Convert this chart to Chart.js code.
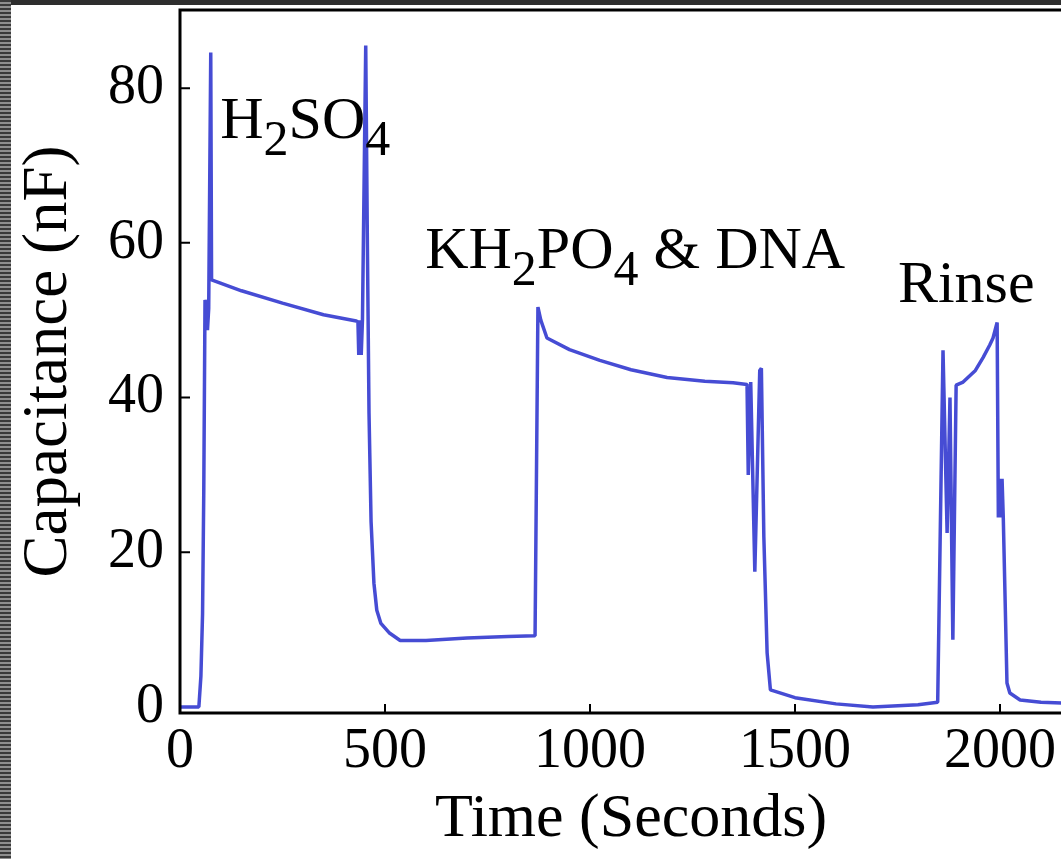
<!DOCTYPE html>
<html>
<head>
<meta charset="utf-8">
<title>Capacitance vs Time</title>
<script src="https://cdn.jsdelivr.net/npm/chart.js@4.4.1/dist/chart.umd.min.js"></script>
<style>
  html, body { margin: 0; padding: 0; overflow: hidden; background: #fff; }
  #wrap { position: relative; width: 1061px; height: 859px; overflow: hidden; background: #fff; }
  #chart { position: absolute; left: 0; top: 0; }
  .top-band { position: absolute; left: 0; top: 0; width: 100%; height: 5px; background: #2e2e2e; }
  .left-strip { position: absolute; left: 0; top: 0; width: 11px; height: 100%;
    background: repeating-linear-gradient(to bottom, #3a3a3a 0px, #3a3a3a 2px, #8e8e8e 2px, #8e8e8e 4px); }
</style>
</head>
<body>
<div id="wrap">
  <canvas id="chart" width="1100" height="859"></canvas>
  <div class="top-band"></div>
  <div class="left-strip"></div>
</div>
<script>
  // trace: time in seconds, capacitance in nF
  const timeSec = [
    0, 46, 51, 55, 58, 61, 64, 67, 70, 75, 77, 150, 250, 350, 430,
    434, 436, 439, 442, 445, 453, 457, 461, 466, 473, 480, 490, 510, 537,
    600, 700, 800, 866, 873, 880, 895, 950, 1024, 1100, 1188, 1280, 1349, 1383,
    1386, 1392, 1402, 1414, 1418, 1424, 1432, 1440, 1500, 1600, 1690, 1800, 1848,
    1861, 1871, 1878, 1885, 1893, 1910, 1940, 1959, 1975, 1983, 1993,
    1996, 1999, 2002, 2005, 2008, 2017, 2024, 2049, 2100, 2200
  ];
  const capacitanceNF = [
    0, 0, 4, 12, 28, 52.6, 52.2, 48.7, 51.5, 84.6, 55.2, 53.8, 52.2, 50.7, 49.9,
    49.8, 45.5, 50, 45.5, 50, 85.5, 60, 38, 24, 16, 12.5, 10.8, 9.6, 8.6,
    8.6, 8.9, 9.1, 9.2, 51.7, 50, 47.7, 46.2, 44.8, 43.6, 42.6, 42.1, 41.9, 41.7,
    30, 42, 17.5, 43.5, 43.8, 22, 7, 2.2, 1.2, 0.4, 0, 0.3, 0.6,
    46.1, 22.5, 40, 8.7, 41.6, 42, 43.5, 45.2, 46.8, 47.7, 49.7,
    24.5, 29.5, 24.5, 29.5, 24.5, 3.1, 1.8, 0.9, 0.6, 0.4
  ];
  const xTicks = [0, 500, 1000, 1500, 2000];
  const yTicks = [0, 20, 40, 60, 80];

  // text labels placed at data coordinates; parts marked 'sub' are subscripts
  const notes = [
    { t: 98, v: 73.6, parts: [['H'], ['2', 'sub'], ['SO'], ['4', 'sub']] },
    { t: 598, v: 56.7, parts: [['KH'], ['2', 'sub'], ['PO'], ['4', 'sub'], [' & DNA']] },
    { t: 1751, v: 52.3, parts: [['Rinse']] }
  ];

  const serif = '"Liberation Serif", "DejaVu Serif", serif';

  const framePlugin = {
    id: 'frame',
    afterDatasetsDraw(chart) {
      const { ctx, chartArea: a, scales: { x, y } } = chart;
      ctx.save();
      ctx.strokeStyle = '#000';
      ctx.lineWidth = 3;
      ctx.beginPath();
      ctx.moveTo(a.right + 10, a.top);
      ctx.lineTo(a.left, a.top);
      ctx.lineTo(a.left, a.bottom);
      ctx.lineTo(a.right + 10, a.bottom);
      ctx.stroke();
      ctx.lineWidth = 2;
      ctx.beginPath();
      y.ticks.forEach(t => {
        if (t.value === 0) return;
        const py = y.getPixelForValue(t.value);
        ctx.moveTo(a.left, py);
        ctx.lineTo(a.left + 10, py);
      });
      x.ticks.forEach(t => {
        if (t.value === 0) return;
        const px = x.getPixelForValue(t.value);
        ctx.moveTo(px, a.bottom);
        ctx.lineTo(px, a.bottom - 9);
      });
      ctx.stroke();

      ctx.fillStyle = '#000';
      ctx.textBaseline = 'alphabetic';
      ctx.textAlign = 'left';
      notes.forEach(n => {
        let px = x.getPixelForValue(n.t);
        const py = y.getPixelForValue(n.v);
        n.parts.forEach(([txt, kind]) => {
          ctx.font = kind === 'sub' ? '50px ' + serif : '60px ' + serif;
          ctx.fillText(txt, px, kind === 'sub' ? py + 17 : py);
          px += ctx.measureText(txt).width;
        });
      });
      ctx.restore();
    }
  };

  new Chart(document.getElementById('chart'), {
    type: 'line',
    data: {
      datasets: [{
        data: timeSec.map((t, i) => ({ x: t, y: capacitanceNF[i] })),
        borderColor: 'rgb(70, 76, 212)',
        borderWidth: 3.5,
        borderJoinStyle: 'bevel',
        pointRadius: 0,
        tension: 0,
        fill: false
      }]
    },
    options: {
      responsive: false,
      animation: false,
      layout: { padding: { top: 10, right: 18, left: 0, bottom: 0 } },
      plugins: { legend: { display: false }, tooltip: { enabled: false } },
      scales: {
        x: {
          type: 'linear',
          min: 0,
          max: 2200,
          afterBuildTicks: s => { s.ticks = xTicks.map(v => ({ value: v })); },
          afterFit: s => { s.height = 146; s.paddingLeft = 0; s.paddingRight = 0; },
          grid: { display: false, drawTicks: false },
          border: { display: false },
          ticks: { color: '#000', font: { family: serif, size: 56 }, padding: 6, maxRotation: 0, autoSkip: false,
            callback: v => String(v) },
          title: { display: true, text: 'Time (Seconds)', color: '#000', font: { family: serif, size: 62 }, padding: { top: 0, bottom: 2 } }
        },
        y: {
          min: -0.78,
          max: 90.1,
          afterBuildTicks: s => { s.ticks = yTicks.map(v => ({ value: v })); },
          afterFit: s => { s.width = 180; s.paddingTop = 0; s.paddingBottom = 0; },
          grid: { display: false, drawTicks: false },
          border: { display: false },
          ticks: { color: '#000', font: { family: serif, size: 56 }, padding: 16, callback: v => String(v) },
          title: { display: true, text: 'Capacitance (nF)', color: '#000', font: { family: serif, size: 63 }, padding: { top: 12, bottom: 0 } }
        }
      }
    },
    plugins: [framePlugin]
  });
</script>
</body>
</html>
